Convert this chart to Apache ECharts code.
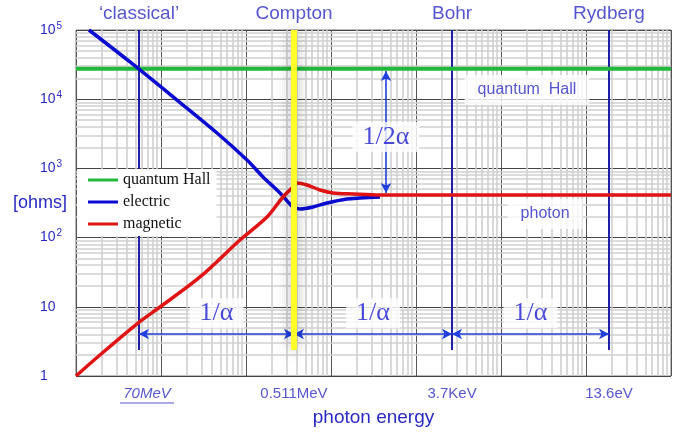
<!DOCTYPE html>
<html>
<head>
<meta charset="utf-8">
<title>impedance vs photon energy</title>
<script src="https://cdn.jsdelivr.net/npm/echarts@6/dist/echarts.min.js"></script>
<style>html,body{margin:0;padding:0;background:#fff;}</style>
</head>
<body>
<div id="main" style="width:690px;height:436px"></div>
<script type="text/javascript">
// curves (x: log energy scale, y: ohms)
var hallX = [1, 1e7];
var hallY = [27500, 27500];

var electricX = [1.42, 4.32, 15.4, 45.6, 102.8, 158.5, 251, 357, 431, 614, 897, 1541, 2193, 3767];
var electricY = [100000, 34500, 9730, 3250, 1321, 752, 442, 277, 259, 277, 316, 361, 373, 386];

var magneticX = [1, 1.91, 5.36, 9.73, 28.8, 84.9, 176.6, 272, 347, 398, 522, 743, 1057, 1816, 3767, 1e7];
var magneticY = [1, 2.01, 5.83, 9.93, 27.0, 92.3, 198.6, 386, 521, 615, 575, 488, 442, 427, 413, 413];

// vertical markers
var markerNames = ['\u2018classical\u2019', 'Compton', 'Bohr', 'Rydberg'];
var markerX = [5.51, 367, 26540, 1.866e6];
var energyLabels = ['70MeV', '0.511MeV', '3.7KeV', '13.6eV'];
var markerBottom = 2.38;
var arrowY = 4.05;       // level of the 1/alpha arrows
var halfAlphaX = 4436;   // 1/2alpha arrow
var halfAlphaTop = 25580, halfAlphaBottom = 441;

var TXT = '#2a2ac4';

function pairs(xs, ys) {
    return xs.map(function (x, i) { return [x, ys[i]]; });
}

// log minor grid (2..9 in every decade)
var minorX = [], minorY = [];
for (var k = 0; k < 7; k++) for (var m = 2; m < 10; m++) minorX.push({ xAxis: m * Math.pow(10, k) });
for (k = 0; k < 5; k++) for (m = 2; m < 10; m++) minorY.push({ yAxis: m * Math.pow(10, k) });

var markerLines = [];
markerX.forEach(function (x, i) {
    if (i == 1) return; // compton is the yellow one
    markerLines.push([{ coord: [x, 100000] }, { coord: [x, markerBottom] }]);
});

var arrows = [];
for (var i = 0; i < markerX.length - 1; i++) {
    arrows.push([{ coord: [markerX[i], arrowY] }, { coord: [markerX[i + 1], arrowY] }]);
}
arrows.push([{ coord: [halfAlphaX, halfAlphaTop] }, { coord: [halfAlphaX, halfAlphaBottom] }]);

var notes = [];
for (i = 0; i < markerX.length - 1; i++) {
    notes.push({ value: [Math.sqrt(markerX[i] * markerX[i + 1]), 8.1], name: '1/\u03b1', big: true });
}
notes.push({ value: [halfAlphaX, 2840], name: '1/2\u03b1', big: true });
notes.push({ value: [2.02e5, 13600], name: 'quantum  Hall' });
notes.push({ value: [3.3e5, 219], name: 'photon' });

var chart = echarts.init(document.getElementById('main'));
var option = {
    animation: false,
    grid: {
        left: 76, right: 19, top: 30, bottom: 60, outerBoundsMode: 'none',
        show: true, borderColor: '#777', borderWidth: 1
    },
    legend: {
        data: ['quantum Hall', 'electric', 'magnetic'],
        orient: 'vertical',
        left: 77, top: 169, z: 6,
        padding: [2, 6, 3, 11],
        backgroundColor: '#fff',
        icon: 'rect',
        itemWidth: 30, itemHeight: 3, itemGap: 4,
        textStyle: { fontFamily: 'Liberation Serif', fontSize: 16, color: '#111', lineHeight: 18 }
    },
    xAxis: {
        type: 'log', logBase: 10, min: 1, max: 1e7, splitNumber: 7,
        axisLine: { show: false }, axisTick: { show: false }, axisLabel: { show: false },
        splitLine: { show: true, lineStyle: { color: '#555', width: 1 } },
        name: 'photon energy', nameLocation: 'middle', nameGap: 32, nameMoveOverlap: false,
        nameTextStyle: { color: TXT, fontSize: 19, fontFamily: 'Liberation Sans' }
    },
    yAxis: {
        type: 'log', logBase: 10, min: 1, max: 1e5, splitNumber: 5,
        axisLine: { show: false }, axisTick: { show: false },
        splitLine: { show: true, lineStyle: { color: '#444', width: 1 } },
        axisLabel: {
            align: 'left', margin: 36,
            formatter: function (v) {
                var e = Math.round(Math.log10(v));
                if (e == 0) return '{b|1}';
                if (e == 1) return '{b|10}';
                return '{b|10}{s|' + e + '}';
            },
            rich: {
                b: { color: TXT, fontSize: 14, fontFamily: 'Liberation Sans' },
                s: { color: TXT, fontSize: 10, fontFamily: 'Liberation Sans', verticalAlign: 'top', padding: [0, 0, 8, 1] }
            }
        },
        name: '[ohms]', nameLocation: 'middle', nameRotate: 0, nameGap: 9, nameMoveOverlap: false,
        nameTextStyle: { color: TXT, fontSize: 18, fontFamily: 'Liberation Sans', align: 'right', padding: [0, 0, 10, 0] }
    },
    series: [
        {
            name: 'gridlines', type: 'line', data: [], z: 1, silent: true,
            markLine: {
                z: 1, silent: true, symbol: 'none', label: { show: false },
                lineStyle: { color: '#d0d0d0', width: 1.6, type: 'solid' },
                data: minorX.concat(minorY)
            }
        },
        {
            name: 'markers', type: 'line', data: [], z: 2, silent: true,
            markLine: {
                z: 2, silent: true, symbol: 'none', label: { show: false },
                lineStyle: { color: '#1e1ea6', width: 2, type: 'solid' },
                data: markerLines
            }
        },
        {
            name: 'arrows', type: 'line', data: [], z: 2, silent: true,
            markLine: {
                z: 2, silent: true, symbol: ['arrow', 'arrow'], symbolSize: [8, 10], label: { show: false },
                lineStyle: { color: '#1f3fe0', width: 1.6, type: 'solid' },
                data: arrows
            }
        },
        {
            name: 'quantum Hall', type: 'line', data: pairs(hallX, hallY), z: 3,
            showSymbol: false, symbol: 'none', color: '#22b83a',
            lineStyle: { width: 4, color: '#22b83a' }
        },
        {
            name: 'electric', type: 'line', data: pairs(electricX, electricY), z: 3,
            showSymbol: false, symbol: 'none', color: '#0a0ad0', smooth: 0.3,
            lineStyle: { width: 3.5, color: '#0a0ad0' }
        },
        {
            name: 'magnetic', type: 'line', data: pairs(magneticX, magneticY), z: 3,
            showSymbol: false, symbol: 'none', color: '#e01414', smooth: 0.3,
            lineStyle: { width: 3.5, color: '#e01414' }
        },
        {
            name: 'compton', type: 'line', data: [], z: 4, silent: true,
            markLine: {
                z: 4, silent: true, symbol: 'none', label: { show: false },
                lineStyle: { color: '#ffff2a', width: 6, type: 'solid', shadowBlur: 14, shadowColor: 'rgba(0,0,0,0.35)' },
                data: [[{ coord: [markerX[1], 100000] }, { coord: [markerX[1], markerBottom] }]]
            }
        },
        {
            name: 'notes', type: 'scatter', z: 5, silent: true, clip: false, symbolSize: 0,
            data: notes.map(function (n) {
                return {
                    value: n.value,
                    label: {
                        show: true, position: 'inside', formatter: n.name,
                        backgroundColor: '#fff', color: n.big ? '#1a1ad0' : TXT,
                        fontFamily: n.big ? 'Liberation Serif' : 'Liberation Sans',
                        fontSize: n.big ? 26 : 16,
                        padding: n.big ? [2, 10, 2, 10] : [7, 13, 7, 13]
                    }
                };
            })
        },
        {
            name: 'tops', type: 'scatter', z: 5, silent: true, clip: false, symbolSize: 0,
            data: markerX.map(function (x, i) {
                return {
                    value: [x, 100000],
                    label: {
                        show: true, position: 'top', distance: 7, formatter: markerNames[i],
                        color: TXT, fontSize: 19, fontFamily: 'Liberation Sans'
                    }
                };
            })
        },
        {
            name: 'energies', type: 'scatter', z: 5, silent: true, clip: false, symbolSize: 0,
            data: markerX.map(function (x, i) {
                var first = i == 0;
                return {
                    value: [x, 1],
                    label: {
                        show: true, position: 'bottom', distance: 10,
                        offset: first ? [8, 0] : [0, 0],
                        formatter: first ? '{i|' + energyLabels[i] + '}\n{u| }' : energyLabels[i],
                        color: TXT, fontSize: 15, fontFamily: 'Liberation Sans',
                        rich: {
                            i: { color: TXT, fontSize: 15, fontStyle: 'italic', fontFamily: 'Liberation Sans', lineHeight: 16 },
                            u: { width: 54, height: 1, lineHeight: 2, fontSize: 1, backgroundColor: TXT }
                        }
                    }
                };
            })
        }
    ]
};
chart.setOption(option);
</script>
</body>
</html>
